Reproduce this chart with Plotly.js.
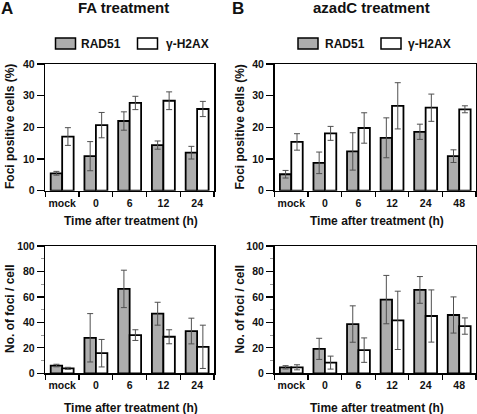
<!DOCTYPE html>
<html>
<head>
<meta charset="utf-8">
<script src="https://cdn.plot.ly/plotly-3.0.1.min.js"></script>
<style>html,body{margin:0;padding:0;background:#fff;}#chart{width:477px;height:414px;}</style>
</head>
<body>
<div id="chart"></div>
<script>
// ---- data ----
const catsFA = ['mock', '0', '6', '12', '24'];
const catsAZ = ['mock', '0', '6', '12', '24', '48'];

const faPctRad51 = [5.5, 10.9, 22.0, 14.4, 12.0];
const faPctRad51Err = [0.6, 4.6, 2.9, 1.3, 2.0];
const faPctH2ax = [17.1, 20.7, 27.7, 28.4, 25.8];
const faPctH2axErr = [2.8, 4.0, 2.1, 2.8, 2.4];

const azPctRad51 = [5.2, 8.8, 12.4, 16.7, 18.6, 10.9];
const azPctRad51Err = [1.2, 3.4, 5.9, 6.3, 2.4, 2.0];
const azPctH2ax = [15.4, 18.1, 19.8, 26.8, 26.2, 25.7];
const azPctH2axErr = [2.6, 2.2, 4.8, 7.3, 4.3, 1.1];

const faFociRad51 = [6.1, 27.9, 66.3, 46.8, 33.2];
const faFociRad51Err = [1.0, 19.0, 14.7, 9.0, 10.1];
const faFociH2ax = [3.9, 15.8, 30.0, 28.7, 20.8];
const faFociH2axErr = [0.8, 10.8, 4.2, 5.5, 17.0];

const azFociRad51 = [4.7, 19.2, 38.7, 57.9, 65.5, 45.8];
const azFociRad51Err = [1.3, 8.3, 14.3, 19.0, 10.5, 14.2];
const azFociH2ax = [4.7, 8.4, 18.2, 41.6, 45.0, 37.1];
const azFociH2axErr = [2.0, 5.1, 9.6, 22.9, 20.5, 6.4];

const seriesNames = ['RAD51', 'γ-H2AX'];
const panelTitles = ['FA treatment', 'azadC treatment'];
const panelLetters = ['A', 'B'];
const yTitles = ['Foci positive cells (%)', 'No. of foci / cell'];
const xTitle = 'Time after treatment (h)';

// ---- styles ----
const FONT = 'Liberation Sans, Arial, Helvetica, sans-serif';
const GREY = '#adadad';
const ERRC = '#505050';

function bar(x, y, err, fill, xa, ya) {
  return {
    type: 'bar', x: x, y: y, xaxis: xa, yaxis: ya, showlegend: false,
    marker: {color: fill, line: {color: '#000', width: 1.8}},
    error_y: {type: 'data', array: err, visible: true, color: ERRC, thickness: 1, width: 3},
    hoverinfo: 'x+y'
  };
}

const data = [
  bar(catsFA, faPctRad51, faPctRad51Err, GREY, 'x', 'y'),
  bar(catsFA, faPctH2ax, faPctH2axErr, '#fff', 'x', 'y'),
  bar(catsAZ, azPctRad51, azPctRad51Err, GREY, 'x2', 'y2'),
  bar(catsAZ, azPctH2ax, azPctH2axErr, '#fff', 'x2', 'y2'),
  bar(catsFA, faFociRad51, faFociRad51Err, GREY, 'x3', 'y3'),
  bar(catsFA, faFociH2ax, faFociH2axErr, '#fff', 'x3', 'y3'),
  bar(catsAZ, azFociRad51, azFociRad51Err, GREY, 'x4', 'y4'),
  bar(catsAZ, azFociH2ax, azFociH2axErr, '#fff', 'x4', 'y4')
];

const W = 477, H = 414;
const px = v => v / W;
const py = v => 1 - v / H;

const domA = [px(45.3), px(214)];
const domB = [px(274.5), px(476)];
const domTop = [py(190.7), py(64)];
const domBot = [py(373.3), py(246)];

const tickFont = {family: FONT, size: 10.5, color: '#111', weight: 'bold'};

function xax(dom, anchor, n) {
  return {
    type: 'category', domain: dom, anchor: anchor,
    range: [-0.5, n - 0.5], tickangle: 0, ticklabelstandoff: 2,
    tickson: 'boundaries', ticks: 'outside', ticklen: 5, tickwidth: 1.2, tickcolor: '#000',
    showline: true, linecolor: '#000', linewidth: 1.5, mirror: true,
    showgrid: false, zeroline: false, tickfont: tickFont, fixedrange: true
  };
}
function yax(dom, anchor, max, minor) {
  const a = {
    domain: dom, anchor: anchor, range: [0, max], dtick: max / (max === 40 ? 4 : 5), tick0: 0,
    ticks: 'outside', ticklen: 7, tickwidth: 1.2, tickcolor: '#000', tickangle: 0,
    showline: true, linecolor: '#000', linewidth: 1.5, mirror: true,
    showgrid: false, zeroline: false, tickfont: tickFont, fixedrange: true
  };
  if (minor) a.minor = {ticks: 'outside', ticklen: 3, tickcolor: '#999', dtick: 10, tickwidth: 1};
  return a;
}

const annotations = [];
const shapes = [];
function ann(text, x, y, size, angle, extra) {
  annotations.push(Object.assign({
    text: text, x: px(x), y: py(y), xref: 'paper', yref: 'paper', showarrow: false,
    xanchor: 'center', yanchor: 'middle', textangle: angle || 0,
    font: {family: FONT, size: size, color: '#111', weight: 'bold'}
  }, extra || {}));
}

// panel letters & titles
ann(panelLetters[0], 6.5, 9, 17);
ann(panelLetters[1], 238, 9, 17);
ann(panelTitles[0], 123, 7.5, 15);
ann(panelTitles[1], 371, 7.5, 15);

// legends (two per panel)
function legend(boxX, textX) {
  shapes.push({type: 'rect', xref: 'paper', yref: 'paper', x0: px(boxX[0]), x1: px(boxX[0] + 20), y0: py(49), y1: py(38),
    fillcolor: GREY, line: {color: '#000', width: 1.5}});
  shapes.push({type: 'rect', xref: 'paper', yref: 'paper', x0: px(boxX[1]), x1: px(boxX[1] + 20), y0: py(49), y1: py(38),
    fillcolor: '#fff', line: {color: '#000', width: 1.5}});
  ann(seriesNames[0], textX[0], 43.5, 12, 0, {xanchor: 'left'});
  ann(seriesNames[1], textX[1], 43.5, 12, 0, {xanchor: 'left'});
}
legend([55.5, 137.5], [79, 164]);
legend([298, 381], [322.5, 405.5]);

// axis titles
ann(yTitles[0], 10, 127, 12, -90);
ann(yTitles[0], 239.5, 127, 12, -90);
ann(yTitles[1], 10, 309, 12, -90);
ann(yTitles[1], 239.5, 309, 12, -90);
ann(xTitle, 131, 221, 12);
ann(xTitle, 377, 221, 12);
ann(xTitle, 131, 407.5, 12);
ann(xTitle, 377, 407.5, 12);

const layout = {
  width: W, height: H,
  margin: {l: 0, r: 0, t: 0, b: 0},
  paper_bgcolor: '#fff', plot_bgcolor: '#fff',
  barmode: 'group', bargap: 0.32, bargroupgap: 0,
  showlegend: false,
  font: {family: FONT, color: '#111'},
  xaxis: xax(domA, 'y', catsFA.length),
  yaxis: yax(domTop, 'x', 40, false),
  xaxis2: xax(domB, 'y2', catsAZ.length),
  yaxis2: yax(domTop, 'x2', 40, false),
  xaxis3: xax(domA, 'y3', catsFA.length),
  yaxis3: yax(domBot, 'x3', 100, true),
  xaxis4: xax(domB, 'y4', catsAZ.length),
  yaxis4: yax(domBot, 'x4', 100, true),
  annotations: annotations,
  shapes: shapes
};

Plotly.newPlot('chart', data, layout, {displayModeBar: false, staticPlot: true});
</script>
</body>
</html>
